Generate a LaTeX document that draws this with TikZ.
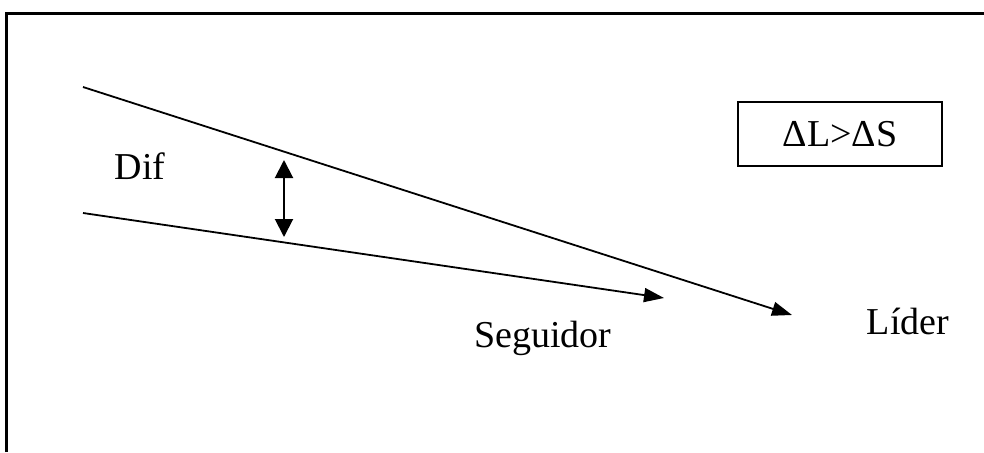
\documentclass[tikz,border=0pt]{standalone}
\usepackage{fontspec}
\setmainfont{Liberation Serif}
\usetikzlibrary{arrows.meta}
\begin{document}
\begin{tikzpicture}[x=1pt,y=-1pt,
  lbl/.style={font=\fontsize{38}{42}\selectfont, inner sep=0pt},
  ray/.style={line width=1.8pt, -{Triangle[length=20pt,width=14pt]}},
  dbl/.style={line width=2pt, {Triangle[length=18pt,width=18pt]}-{Triangle[length=18pt,width=18pt]}},
  eqbox/.style={draw, line width=2pt, minimum width=204pt, minimum height=64pt, inner sep=0pt, font=\fontsize{38}{42}\selectfont}]
\useasboundingbox (0,0) rectangle (984,452);
\fill[white] (0,0) rectangle (984,452);
% frame
\coordinate (fl) at (6,452);
\coordinate (ftl) at (6,13.5);
\coordinate (ftr) at (984,13.5);
\draw[line width=3pt] (fl) -- (ftl) -- (ftr);
% rays
\coordinate (ua) at (83,87);
\coordinate (ub) at (792,315);
\coordinate (la) at (83,213);
\coordinate (lb) at (664,298);
\draw[ray] (ua) -- (ub);
\draw[ray] (la) -- (lb);
% difference arrow
\coordinate (da) at (284,160);
\coordinate (db) at (284,237);
\draw[dbl] (da) -- (db);
% labels
\node[lbl] (dif) at (140,166) {Dif};
\node[lbl] (seg) at (543,338) {Seguidor};
\node[lbl] (lid) at (908,321) {Líder};
\node[eqbox] (eq) at (840,134) {ΔL>ΔS};
\end{tikzpicture}
\end{document}
